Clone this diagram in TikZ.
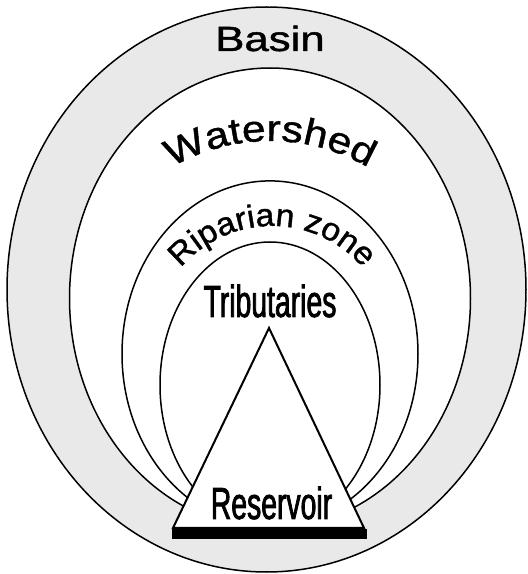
\documentclass[tikz,border=0pt]{standalone}
\usepackage{fontspec}
\usetikzlibrary{decorations.text}

\newfontfamily\basinfont[FakeStretch=1.25, FakeBold=1.2]{Liberation Sans}
\newfontfamily\shedfont[FakeStretch=1.15, FakeBold=1.2]{Liberation Sans}
\newfontfamily\ripfont[FakeStretch=1.05, FakeBold=1.2]{Liberation Sans}
\newfontfamily\narrowfont[FakeStretch=0.63, FakeBold=1.6]{Liberation Sans}
\definecolor{basingray}{RGB}{233,233,233}

\begin{document}
\begin{tikzpicture}[x=1pt, y=1pt]
  \tikzset{
    ring/.style={line width=1.5pt},
    label/.style={anchor=base, inner sep=0pt}
  }
  \useasboundingbox (0,0) rectangle (528,574);

  % Draw the nested zones, outside in
  \filldraw[fill=basingray, ring] (266.5,284.5) ellipse [x radius=259.5pt, y radius=282.5pt];
  \filldraw[fill=white, ring] (270,275.7) ellipse [x radius=200.5pt, y radius=230.3pt];
  \filldraw[fill=white, ring] (270,220.1) ellipse [x radius=148pt, y radius=173pt];
  \filldraw[fill=white, ring] (270,189) ellipse [x radius=110pt, y radius=143pt];

  % Reservoir triangle with its bar
  \fill (172,34.7) rectangle (367,45);
  \filldraw[fill=white, line width=2pt] (269,246) -- (173,46) -- (364,46) -- cycle;

  % Straight labels
  \node[label, font=\basinfont\fontsize{35}{35}\selectfont] (basin) at (270,523) {Basin};
  \node[label, font=\narrowfont\fontsize{45}{45}\selectfont] (tributaries) at (270,257) {Tributaries};
  \node[label, font=\narrowfont\fontsize{45}{45}\selectfont] (reservoir) at (271.5,55) {Reservoir};

  % Curved labels
  \path[decorate, decoration={text along path, text align=center,
      text={|\shedfont\fontsize{37}{37}\selectfont|Watershed}}]
    (270,238) ++(150:195pt) arc [start angle=150, end angle=30, radius=195pt];
  \path[decorate, decoration={text along path, text align=center,
      text={|\ripfont\fontsize{32}{32}\selectfont|Riparian zone}}]
    (272,228) ++(170:120pt) arc [start angle=170, end angle=10, radius=120pt];

\end{tikzpicture}
\end{document}
